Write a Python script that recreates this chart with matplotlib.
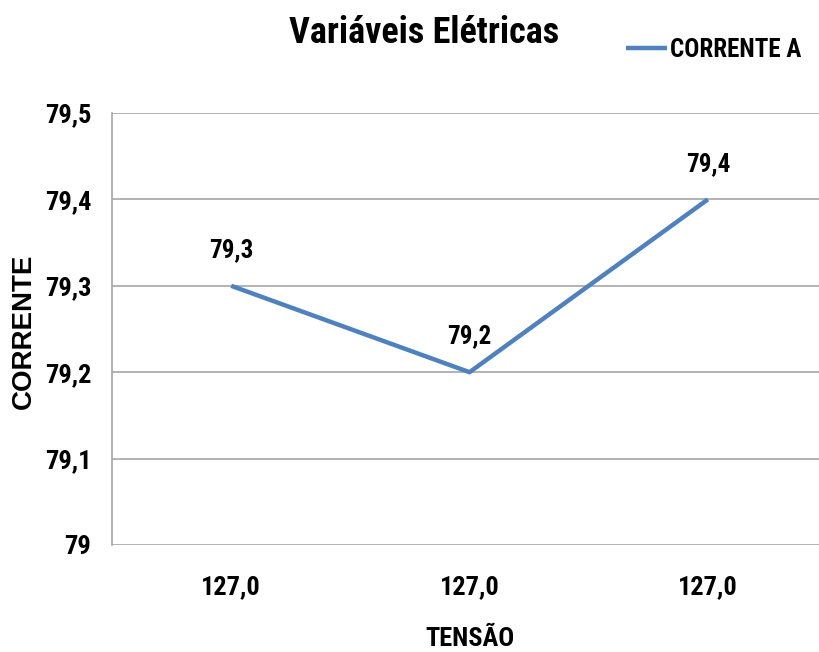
import matplotlib.pyplot as plt
from matplotlib import font_manager

categories = ["127,0", "127,0", "127,0"]
corrente_a = [79.3, 79.2, 79.4]
point_labels = ["79,3", "79,2", "79,4"]
y_ticks = [79.0, 79.1, 79.2, 79.3, 79.4, 79.5]
y_tick_labels = ["79", "79,1", "79,2", "79,3", "79,4", "79,5"]


def bold_path(fam):
    path = font_manager.findfont(font_manager.FontProperties(family=fam, weight="bold"),
                                 fallback_to_default=False)
    f = font_manager.get_font(path)
    if f.family_name == fam and "Bold" in f.style_name:
        return path
    return None


def first_bold(cands):
    names = font_manager.get_font_names()
    for n in cands:
        if n in names:
            try:
                p = bold_path(n)
                if p:
                    return n, p
            except Exception:
                pass
    return None, None


# condensed face for most texts, a plain Arial-like one for the y label
all_names = font_manager.get_font_names()
cands = ["Liberation Sans Narrow", "Roboto Condensed", "Open Sans Condensed",
         "Noto Sans Condensed", "DejaVu Sans Condensed"]
cands += sorted(n for n in all_names if ("Narrow" in n or "Condensed" in n) and n not in cands)
narrow, _ = first_bold(cands)
NARROW = [narrow or "Liberation Sans", "DejaVu Sans"]
_, wide_path = first_bold(["Liberation Sans", "Arimo", "Roboto", "Noto Sans"])
if wide_path:
    ylab_font = font_manager.FontProperties(fname=wide_path, size=20)
else:
    ylab_font = font_manager.FontProperties(family="DejaVu Sans", weight="bold", size=20)

fig = plt.figure(figsize=(8.19, 6.52), dpi=100)
ax = fig.add_axes([112 / 819, 107 / 652, 715 / 819, 432 / 652])

x = list(range(len(categories)))
line, = ax.plot(x, corrente_a, color="#4f81bd", linewidth=3.2,
                solid_capstyle="butt", label="CORRENTE A", zorder=3)

for xi, yi, lab in zip(x, corrente_a, point_labels):
    ax.annotate(lab, (xi, yi), xytext=(0, 17), textcoords="offset points",
                ha="center", va="bottom", fontsize=18, fontweight="bold",
                family=NARROW)

ax.set_xlim(-0.5, 2.5)
ax.set_ylim(79.0, 79.5)
ax.set_yticks(y_ticks)
ax.set_yticklabels(y_tick_labels, family=NARROW, fontsize=19, fontweight="bold")
ax.set_xticks(x)
ax.set_xticklabels(categories, family=NARROW, fontsize=19, fontweight="bold")
ax.tick_params(axis="both", length=0)
ax.tick_params(axis="y", pad=15)
ax.tick_params(axis="x", pad=22)

ax.grid(axis="y", color="#a6a6a6", linewidth=1.2)
ax.set_axisbelow(True)
for s in ["top", "right", "bottom"]:
    ax.spines[s].set_visible(False)
ax.spines["left"].set_color("#a6a6a6")
ax.spines["left"].set_linewidth(1.2)

ax.set_xlabel("TENSÃO", family=NARROW, fontsize=19, fontweight="bold", labelpad=20)
fig.text(24 / 819, 1 - 331 / 652, "CORRENTE", rotation=90, ha="center", va="center",
         fontproperties=ylab_font)

fig.text(424 / 819, 1 - 33 / 652, "Variáveis Elétricas", ha="center", va="center",
         family=NARROW, fontsize=26, fontweight="bold")

leg = fig.legend(handles=[line], loc="center left", bbox_to_anchor=(603 / 819, 1 - 50 / 652),
                 frameon=False, handlelength=1.65, handletextpad=0.15,
                 prop={"family": NARROW, "size": 18, "weight": "bold"})

fig.savefig("out.png", dpi=100)
